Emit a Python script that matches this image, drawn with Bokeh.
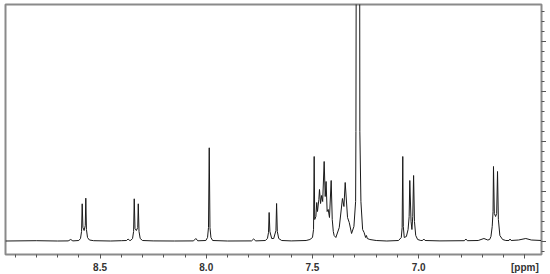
from bokeh.plotting import figure
from bokeh.models import Range1d, FixedTicker, SingleIntervalTicker, CustomJSTickFormatter
from bokeh.embed import file_html
from bokeh.resources import INLINE

# Spectrum vertices (ppm, intensity), left (high ppm) to right
region_a = [(8.945, 0.5), (8.80, 0.8), (8.70, 0.5), (8.650, 0.6), (8.638, 2), (8.628, 0.6),
            (8.600, 1), (8.592, 3), (8.587, 10), (8.584, 37.7), (8.5805, 14), (8.575, 11),
            (8.5695, 16), (8.567, 43.3), (8.564, 12), (8.559, 4), (8.550, 1.5), (8.530, 0.8),
            (8.45, 0.5), (8.40, 0.8), (8.375, 1), (8.368, 2.5), (8.360, 1)]
region_b = [(8.355, 1.2), (8.347, 3), (8.342, 10), (8.339, 42.7), (8.3355, 13), (8.329, 11),
            (8.3225, 14), (8.320, 37.7), (8.3165, 10), (8.311, 3), (8.300, 1), (8.25, 0.6),
            (8.15, 0.5), (8.060, 0.6), (8.049, 3), (8.040, 0.7)]
region_c = [(8.002, 1), (7.994, 4), (7.9895, 14), (7.986, 93.7), (7.9825, 14), (7.978, 4),
            (7.970, 1), (7.90, 0.5), (7.787, 0.6), (7.777, 2.5), (7.767, 0.6)]
region_d = [(7.722, 1), (7.712, 3), (7.707, 9), (7.704, 29), (7.7005, 10), (7.692, 3),
            (7.6825, 3), (7.672, 11), (7.669, 38), (7.6655, 10), (7.659, 3), (7.645, 1),
            (7.60, 0.6), (7.530, 1)]
region_e = [(7.512, 2), (7.500, 4), (7.495, 12), (7.492, 85), (7.4895, 22), (7.484, 25),
            (7.480, 39), (7.4765, 30), (7.470, 42), (7.467, 52), (7.462, 38), (7.457, 46),
            (7.452, 40), (7.445, 80), (7.440, 45), (7.436, 60), (7.431, 30), (7.426, 32),
            (7.420, 24), (7.412, 61), (7.407, 22), (7.402, 10), (7.398, 6), (7.390, 4),
            (7.374, 14), (7.359, 43), (7.352, 35), (7.346, 59), (7.335, 24), (7.327, 19),
            (7.316, 8)]
region_f = [(7.305, 15), (7.297, 40), (7.2955, 110), (7.2915, 600), (7.2795, 600), (7.277, 110),
            (7.272, 40), (7.264, 12), (7.257, 9), (7.250, 4), (7.246, 6), (7.242, 3),
            (7.230, 2), (7.200, 1), (7.150, 0.5)]
region_g = [(7.095, 1), (7.082, 4), (7.078, 14), (7.075, 85), (7.0725, 15), (7.068, 4),
            (7.058, 5), (7.050, 12), (7.045, 25), (7.042, 61), (7.036, 20), (7.032, 12),
            (7.028, 25), (7.024, 66), (7.020, 20), (7.014, 6), (7.005, 2), (6.990, 1),
            (6.982, 1), (6.976, 2.5), (6.970, 1), (6.90, 0.6), (6.785, 0.8), (6.778, 2.5),
            (6.771, 0.8), (6.72, 1), (6.693, 3), (6.675, 1.5)]
region_h = [(6.666, 2), (6.660, 5), (6.654, 15), (6.650, 30), (6.648, 75), (6.644, 28),
            (6.638, 25), (6.633, 28), (6.629, 70), (6.625, 22), (6.618, 6), (6.605, 2),
            (6.590, 1), (6.575, 1), (6.570, 2.5), (6.565, 1), (6.53, 1.5), (6.496, 3),
            (6.47, 1.5), (6.422, 1)]

x_major_ticks = [8.5, 8.0, 7.5, 7.0, 6.5]
x_minor_ticks = [8.9, 8.8, 8.7, 8.6, 8.5, 8.4, 8.3, 8.2, 8.1, 8.0, 7.9, 7.8, 7.7, 7.6, 7.5,
                 7.4, 7.3, 7.2, 7.1, 7.0, 6.9, 6.8, 6.7, 6.6, 6.5]
x_labels = {8.5: "8.5", 8.0: "8.0", 7.5: "7.5", 7.0: "7.0", 6.5: "[ppm]"}

points = region_a + region_b + region_c + region_d + region_e + region_f + region_g + region_h
ppm = [pt[0] for pt in points]
inten = [pt[1] for pt in points]

p = figure(frame_width=536, frame_height=250,
           x_range=Range1d(8.945, 6.422), y_range=Range1d(-13, 237),
           output_backend="svg", toolbar_location=None,
           y_axis_location="right",
           min_border_left=5, min_border_top=4, min_border_right=0, min_border_bottom=0)
p.background_fill_color = "white"
p.border_fill_color = "white"
p.outline_line_color = "#8a8a8a"
p.outline_line_width = 2
p.grid.visible = False

p.line(ppm, inten, line_color="#1a1a1a", line_width=1)

xa = p.xaxis[0]
xa.ticker = FixedTicker(ticks=x_major_ticks, minor_ticks=x_minor_ticks)
xa.major_label_overrides = x_labels
xa.axis_line_color = "#8a8a8a"
xa.axis_line_width = 1
xa.major_tick_line_color = "#555555"
xa.minor_tick_line_color = "#555555"
xa.major_tick_out = 4
xa.major_tick_in = 0
xa.minor_tick_out = 3
xa.minor_tick_in = 0
xa.major_label_standoff = 3
xa.major_label_text_font = "Liberation Sans"
xa.major_label_text_font_style = "bold"
xa.major_label_text_font_size = "10px"
xa.major_label_text_color = "#333333"

ya = p.yaxis[0]
ya.ticker = SingleIntervalTicker(interval=50, num_minor_ticks=5)
ya.formatter = CustomJSTickFormatter(code="return ''")
ya.axis_line_color = "#8a8a8a"
ya.major_tick_line_color = "#555555"
ya.minor_tick_line_color = "#555555"
ya.major_tick_out = 5
ya.major_tick_in = 0
ya.minor_tick_out = 3
ya.minor_tick_in = 0
ya.major_label_standoff = 0

open("out.html", "w").write(file_html(p, INLINE))
